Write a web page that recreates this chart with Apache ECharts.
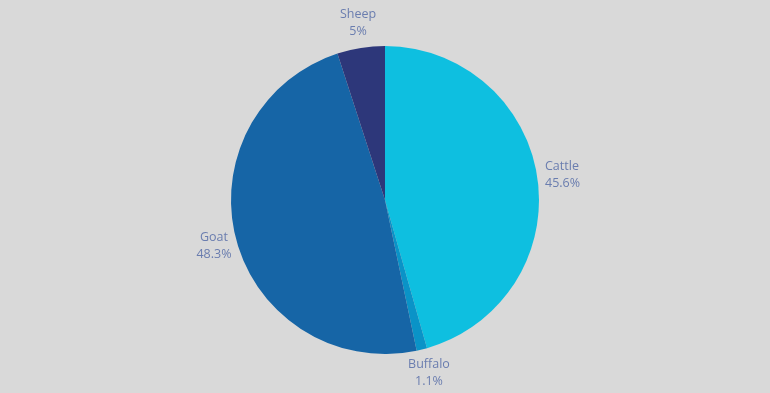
<!DOCTYPE html>
<html>
<head>
<meta charset="utf-8">
<script src="https://cdn.jsdelivr.net/npm/echarts@6/dist/echarts.min.js"></script>
<style>
html,body{margin:0;padding:0;background:#d9d9d9;}
#chart{width:770px;height:393px;}
</style>
</head>
<body>
<div id="chart"></div>
<script>
const categories = ["Cattle", "Buffalo", "Goat", "Sheep"];
const values = [45.6, 1.1, 48.3, 5];
const colors = ["#0ebfe0", "#0a93c7", "#1665a6", "#2d377a"];

// label anchor positions (layout only)
const labelPos = [
  {x: 545, y: 175, align: "left"},
  {x: 429, y: 373, align: "center"},
  {x: 214, y: 246, align: "center"},
  {x: 358, y: 23, align: "center"}
];

const chart = echarts.init(document.getElementById("chart"));
chart.setOption({
  backgroundColor: "#d9d9d9",
  animation: false,
  series: [{
    type: "pie",
    center: [385, 200],
    radius: 154,
    startAngle: 90,
    clockwise: true,
    data: categories.map((c, i) => ({name: c, value: values[i], itemStyle: {color: colors[i]}})),
    label: {
      show: true,
      position: "outside",
      formatter: "{b}\n{c}%",
      color: "#6a7daf",
      fontFamily: "Open Sans",
      fontSize: 12.5,
      lineHeight: 17
    },
    labelLine: {show: false},
    labelLayout: function (params) {
      const p = labelPos[params.dataIndex];
      return {x: p.x, y: p.y, align: p.align, verticalAlign: "middle"};
    }
  }]
});
</script>
</body>
</html>
